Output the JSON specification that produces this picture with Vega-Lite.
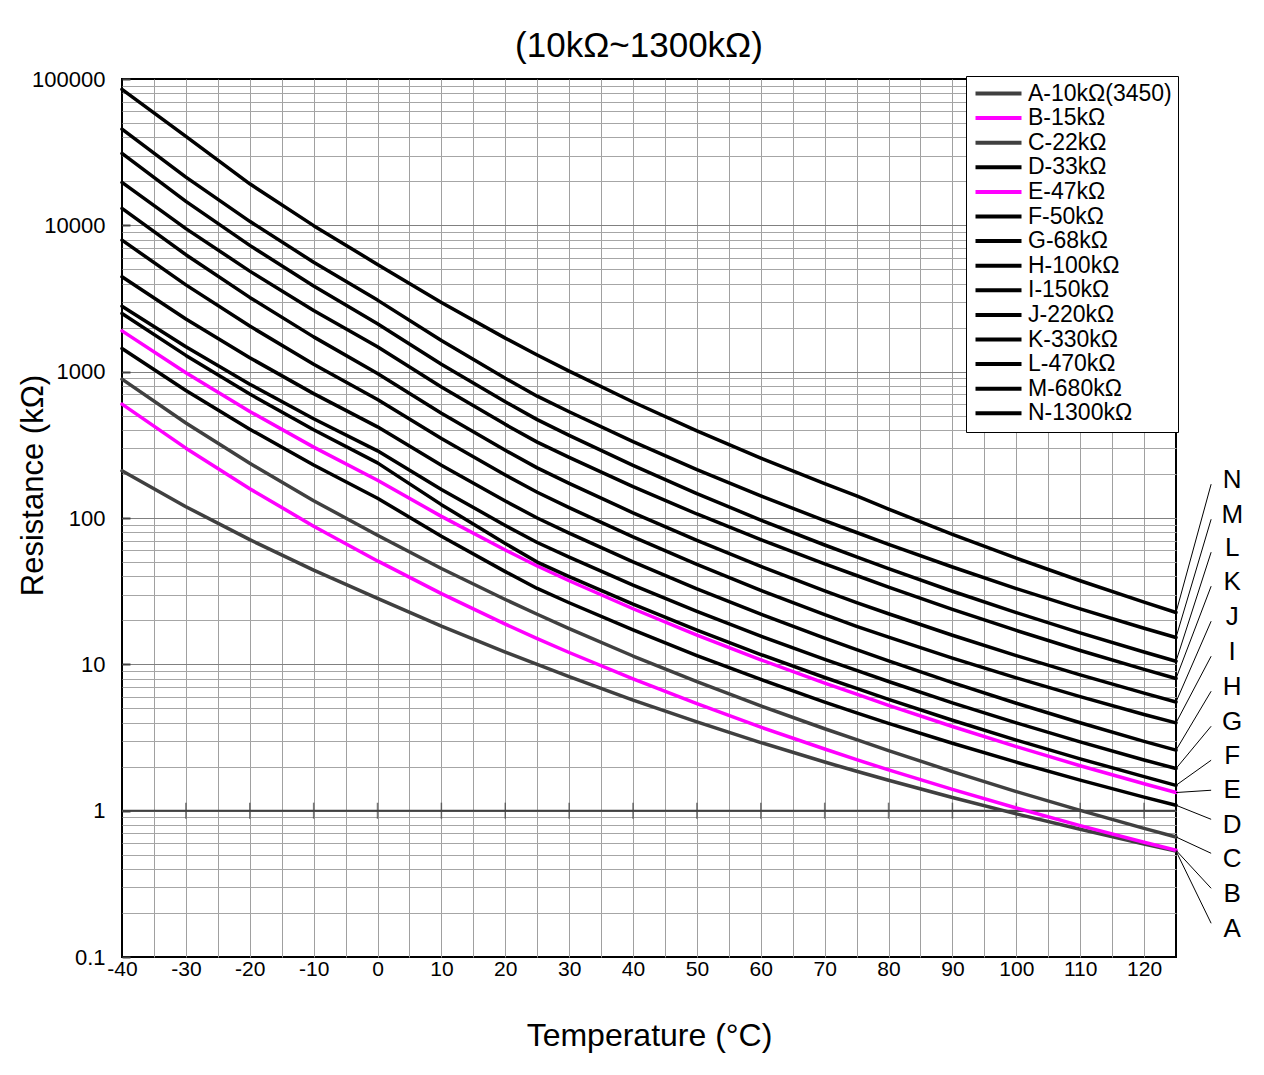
{
  "$schema": "https://vega.github.io/schema/vega-lite/v6.json",
  "width": 1054,
  "height": 878,
  "autosize": {"type": "none"},
  "padding": {"left": 122, "top": 79, "right": 88, "bottom": 118},
  "background": "#ffffff",
  "config": {
    "font": "Liberation Sans",
    "view": {"stroke": "#000000", "strokeWidth": 2}
  },
  "title": {"text": "(10kΩ~1300kΩ)", "fontSize": 35, "fontWeight": "normal", "font": "Liberation Sans", "color": "#000000", "frame": "group", "anchor": "middle", "dx": -10, "offset": 4},
  "encoding": {
    "x": {
      "field": "T", "type": "quantitative",
      "scale": {"domain": [-40, 125], "nice": false, "zero": false},
      "axis": {
        "title": "Temperature (°C)",
        "titleFontSize": 32, "titleFontWeight": "normal", "titleColor": "#000000",
        "titleY": 78, "titleBaseline": "middle",
        "values": [-40,-35,-30,-25,-20,-15,-10,-5,0,5,10,15,20,25,30,35,40,45,50,55,60,65,70,75,80,85,90,95,100,105,110,115,120,125],
        "labelExpr": "(datum.value % 10 == 0 && datum.value <= 120) ? ('' + datum.value) : ''",
        "labelFontSize": 21, "labelColor": "#000000", "labelPadding": 1,
        "labelFlush": false, "labelOverlap": false,
        "ticks": false, "domain": false,
        "grid": true, "gridColor": "#a0a0a0", "gridWidth": 1,
        "gridOpacity": {"condition": {"test": "datum.value == -40 || datum.value == 125", "value": 0}, "value": 1}
      }
    },
    "y": {
      "field": "R", "type": "quantitative",
      "scale": {"type": "log", "domain": [0.1, 100000], "nice": false},
      "axis": {
        "title": "Resistance (kΩ)",
        "titleFontSize": 31, "titleFontWeight": "normal", "titleColor": "#000000",
        "titleX": -89, "titleY": 406, "titleBaseline": "middle",
        "values": [0.1,0.2,0.3,0.4,0.5,0.6,0.7,0.8,0.9,1,2,3,4,5,6,7,8,9,10,20,30,40,50,60,70,80,90,100,200,300,400,500,600,700,800,900,1000,2000,3000,4000,5000,6000,7000,8000,9000,10000,20000,30000,40000,50000,60000,70000,80000,90000,100000],
        "labelExpr": "indexof([0.1,1,10,100,1000,10000,100000], datum.value) >= 0 ? ('' + datum.value) : ''",
        "labelFontSize": 22, "labelColor": "#000000",
        "labelFlush": false, "labelOverlap": false,
        "ticks": true, "tickSize": -8, "tickWidth": 2, "tickColor": "#404040",
        "tickOpacity": {"condition": {"test": "indexof([0.1,1,10,100,1000,10000,100000], datum.value) >= 0", "value": 1}, "value": 0},
        "labelPadding": 25,
        "domain": false,
        "grid": true, "gridWidth": 1,
        "gridColor": {"condition": {"test": "indexof([1,10,100,1000,10000], datum.value) >= 0", "value": "#808080"}, "value": "#a6a6a6"},
        "gridOpacity": {"condition": {"test": "datum.value == 0.1 || datum.value == 100000", "value": 0}, "value": 1}
      }
    }
  },
  "layer": [
    {
      "data": {"values": [{"T": -40, "R": 1}, {"T": 125, "R": 1}]},
      "mark": {"type": "line", "color": "#404040", "strokeWidth": 2}
    },
    {
      "data": {"values": [{"T": -30, "R": 1}, {"T": -20, "R": 1}, {"T": -10, "R": 1}, {"T": 0, "R": 1}, {"T": 10, "R": 1}, {"T": 20, "R": 1}, {"T": 30, "R": 1}, {"T": 40, "R": 1}, {"T": 50, "R": 1}, {"T": 60, "R": 1}, {"T": 70, "R": 1}, {"T": 80, "R": 1}, {"T": 90, "R": 1}, {"T": 100, "R": 1}, {"T": 110, "R": 1}, {"T": 120, "R": 1}]},
      "mark": {"type": "tick", "orient": "vertical", "size": 16, "thickness": 1.5, "color": "#404040"}
    },
    {
      "data": {"values": [
        {"n":"A-10kΩ(3450)","T":-40,"R":210},{"n":"A-10kΩ(3450)","T":-30,"R":119.4},{"n":"A-10kΩ(3450)","T":-20,"R":71.1},{"n":"A-10kΩ(3450)","T":-10,"R":44.0},{"n":"A-10kΩ(3450)","T":0,"R":28.2},{"n":"A-10kΩ(3450)","T":10,"R":18.22},{"n":"A-10kΩ(3450)","T":20,"R":12.13},{"n":"A-10kΩ(3450)","T":25,"R":10},{"n":"A-10kΩ(3450)","T":30,"R":8.25},{"n":"A-10kΩ(3450)","T":40,"R":5.70},{"n":"A-10kΩ(3450)","T":50,"R":4.04},{"n":"A-10kΩ(3450)","T":60,"R":2.92},{"n":"A-10kΩ(3450)","T":70,"R":2.15},{"n":"A-10kΩ(3450)","T":75,"R":1.86},{"n":"A-10kΩ(3450)","T":80,"R":1.613},{"n":"A-10kΩ(3450)","T":90,"R":1.230},{"n":"A-10kΩ(3450)","T":100,"R":0.951},{"n":"A-10kΩ(3450)","T":110,"R":0.746},{"n":"A-10kΩ(3450)","T":120,"R":0.592},{"n":"A-10kΩ(3450)","T":125,"R":0.53},
        {"n":"B-15kΩ","T":-40,"R":600},{"n":"B-15kΩ","T":-30,"R":300.1},{"n":"B-15kΩ","T":-20,"R":158.6},{"n":"B-15kΩ","T":-10,"R":87.9},{"n":"B-15kΩ","T":0,"R":50.9},{"n":"B-15kΩ","T":10,"R":30.4},{"n":"B-15kΩ","T":20,"R":18.84},{"n":"B-15kΩ","T":25,"R":15},{"n":"B-15kΩ","T":30,"R":12.05},{"n":"B-15kΩ","T":40,"R":7.95},{"n":"B-15kΩ","T":50,"R":5.38},{"n":"B-15kΩ","T":60,"R":3.72},{"n":"B-15kΩ","T":70,"R":2.64},{"n":"B-15kΩ","T":75,"R":2.23},{"n":"B-15kΩ","T":80,"R":1.901},{"n":"B-15kΩ","T":90,"R":1.397},{"n":"B-15kΩ","T":100,"R":1.043},{"n":"B-15kΩ","T":110,"R":0.791},{"n":"B-15kΩ","T":120,"R":0.608},{"n":"B-15kΩ","T":125,"R":0.536},
        {"n":"C-22kΩ","T":-40,"R":889},{"n":"C-22kΩ","T":-30,"R":446},{"n":"C-22kΩ","T":-20,"R":236.3},{"n":"C-22kΩ","T":-10,"R":131.3},{"n":"C-22kΩ","T":0,"R":76.2},{"n":"C-22kΩ","T":10,"R":45.15},{"n":"C-22kΩ","T":20,"R":27.73},{"n":"C-22kΩ","T":25,"R":22},{"n":"C-22kΩ","T":30,"R":17.54},{"n":"C-22kΩ","T":40,"R":11.40},{"n":"C-22kΩ","T":50,"R":7.61},{"n":"C-22kΩ","T":60,"R":5.20},{"n":"C-22kΩ","T":70,"R":3.63},{"n":"C-22kΩ","T":75,"R":3.06},{"n":"C-22kΩ","T":80,"R":2.576},{"n":"C-22kΩ","T":90,"R":1.849},{"n":"C-22kΩ","T":100,"R":1.351},{"n":"C-22kΩ","T":110,"R":1.004},{"n":"C-22kΩ","T":120,"R":0.757},{"n":"C-22kΩ","T":125,"R":0.661},
        {"n":"D-33kΩ","T":-40,"R":1440},{"n":"D-33kΩ","T":-30,"R":743.9},{"n":"D-33kΩ","T":-20,"R":404.2},{"n":"D-33kΩ","T":-10,"R":230.1},{"n":"D-33kΩ","T":0,"R":136.5},{"n":"D-33kΩ","T":10,"R":75.05},{"n":"D-33kΩ","T":20,"R":42.99},{"n":"D-33kΩ","T":25,"R":33},{"n":"D-33kΩ","T":30,"R":26.36},{"n":"D-33kΩ","T":40,"R":17.18},{"n":"D-33kΩ","T":50,"R":11.49},{"n":"D-33kΩ","T":60,"R":7.88},{"n":"D-33kΩ","T":70,"R":5.52},{"n":"D-33kΩ","T":75,"R":4.656},{"n":"D-33kΩ","T":80,"R":3.953},{"n":"D-33kΩ","T":90,"R":2.887},{"n":"D-33kΩ","T":100,"R":2.145},{"n":"D-33kΩ","T":110,"R":1.618},{"n":"D-33kΩ","T":120,"R":1.238},{"n":"D-33kΩ","T":125,"R":1.089},
        {"n":"E-47kΩ","T":-40,"R":1900},{"n":"E-47kΩ","T":-30,"R":982.4},{"n":"E-47kΩ","T":-20,"R":534.8},{"n":"E-47kΩ","T":-10,"R":304.9},{"n":"E-47kΩ","T":0,"R":181.1},{"n":"E-47kΩ","T":10,"R":102.6},{"n":"E-47kΩ","T":20,"R":60.43},{"n":"E-47kΩ","T":25,"R":47},{"n":"E-47kΩ","T":30,"R":37.27},{"n":"E-47kΩ","T":40,"R":23.98},{"n":"E-47kΩ","T":50,"R":15.85},{"n":"E-47kΩ","T":60,"R":10.74},{"n":"E-47kΩ","T":70,"R":7.45},{"n":"E-47kΩ","T":75,"R":6.25},{"n":"E-47kΩ","T":80,"R":5.25},{"n":"E-47kΩ","T":90,"R":3.758},{"n":"E-47kΩ","T":100,"R":2.739},{"n":"E-47kΩ","T":110,"R":2.029},{"n":"E-47kΩ","T":120,"R":1.526},{"n":"E-47kΩ","T":125,"R":1.33},
        {"n":"F-50kΩ","T":-40,"R":2500},{"n":"F-50kΩ","T":-30,"R":1292},{"n":"F-50kΩ","T":-20,"R":703.5},{"n":"F-50kΩ","T":-10,"R":401.1},{"n":"F-50kΩ","T":0,"R":238.2},{"n":"F-50kΩ","T":10,"R":123.4},{"n":"F-50kΩ","T":20,"R":66.89},{"n":"F-50kΩ","T":25,"R":50},{"n":"F-50kΩ","T":30,"R":39.80},{"n":"F-50kΩ","T":40,"R":25.76},{"n":"F-50kΩ","T":50,"R":17.13},{"n":"F-50kΩ","T":60,"R":11.67},{"n":"F-50kΩ","T":70,"R":8.13},{"n":"F-50kΩ","T":75,"R":6.84},{"n":"F-50kΩ","T":80,"R":5.76},{"n":"F-50kΩ","T":90,"R":4.146},{"n":"F-50kΩ","T":100,"R":3.037},{"n":"F-50kΩ","T":110,"R":2.261},{"n":"F-50kΩ","T":120,"R":1.708},{"n":"F-50kΩ","T":125,"R":1.49},
        {"n":"G-68kΩ","T":-40,"R":2800},{"n":"G-68kΩ","T":-30,"R":1480},{"n":"G-68kΩ","T":-20,"R":821.2},{"n":"G-68kΩ","T":-10,"R":476.6},{"n":"G-68kΩ","T":0,"R":287.7},{"n":"G-68kΩ","T":10,"R":156.7},{"n":"G-68kΩ","T":20,"R":88.96},{"n":"G-68kΩ","T":25,"R":68},{"n":"G-68kΩ","T":30,"R":53.96},{"n":"G-68kΩ","T":40,"R":34.74},{"n":"G-68kΩ","T":50,"R":22.98},{"n":"G-68kΩ","T":60,"R":15.59},{"n":"G-68kΩ","T":70,"R":10.81},{"n":"G-68kΩ","T":75,"R":9.08},{"n":"G-68kΩ","T":80,"R":7.63},{"n":"G-68kΩ","T":90,"R":5.46},{"n":"G-68kΩ","T":100,"R":3.98},{"n":"G-68kΩ","T":110,"R":2.951},{"n":"G-68kΩ","T":120,"R":2.221},{"n":"G-68kΩ","T":125,"R":1.94},
        {"n":"H-100kΩ","T":-40,"R":4450},{"n":"H-100kΩ","T":-30,"R":2292},{"n":"H-100kΩ","T":-20,"R":1245},{"n":"H-100kΩ","T":-10,"R":707.9},{"n":"H-100kΩ","T":0,"R":419.8},{"n":"H-100kΩ","T":10,"R":229.4},{"n":"H-100kΩ","T":20,"R":130.6},{"n":"H-100kΩ","T":25,"R":100},{"n":"H-100kΩ","T":30,"R":78.85},{"n":"H-100kΩ","T":40,"R":50.13},{"n":"H-100kΩ","T":50,"R":32.78},{"n":"H-100kΩ","T":60,"R":22.0},{"n":"H-100kΩ","T":70,"R":15.11},{"n":"H-100kΩ","T":75,"R":12.62},{"n":"H-100kΩ","T":80,"R":10.56},{"n":"H-100kΩ","T":90,"R":7.49},{"n":"H-100kΩ","T":100,"R":5.42},{"n":"H-100kΩ","T":110,"R":3.986},{"n":"H-100kΩ","T":120,"R":2.978},{"n":"H-100kΩ","T":125,"R":2.59},
        {"n":"I-150kΩ","T":-40,"R":7920},{"n":"I-150kΩ","T":-30,"R":3920},{"n":"I-150kΩ","T":-20,"R":2049},{"n":"I-150kΩ","T":-10,"R":1125},{"n":"I-150kΩ","T":0,"R":645.7},{"n":"I-150kΩ","T":10,"R":349.1},{"n":"I-150kΩ","T":20,"R":196.9},{"n":"I-150kΩ","T":25,"R":150},{"n":"I-150kΩ","T":30,"R":117.7},{"n":"I-150kΩ","T":40,"R":74.23},{"n":"I-150kΩ","T":50,"R":48.15},{"n":"I-150kΩ","T":60,"R":32.06},{"n":"I-150kΩ","T":70,"R":21.86},{"n":"I-150kΩ","T":75,"R":18.2},{"n":"I-150kΩ","T":80,"R":15.33},{"n":"I-150kΩ","T":90,"R":11.03},{"n":"I-150kΩ","T":100,"R":8.08},{"n":"I-150kΩ","T":110,"R":6.015},{"n":"I-150kΩ","T":120,"R":4.545},{"n":"I-150kΩ","T":125,"R":3.98},
        {"n":"J-220kΩ","T":-40,"R":13050},{"n":"J-220kΩ","T":-30,"R":6300},{"n":"J-220kΩ","T":-20,"R":3217},{"n":"J-220kΩ","T":-10,"R":1729},{"n":"J-220kΩ","T":0,"R":972.9},{"n":"J-220kΩ","T":10,"R":520.2},{"n":"J-220kΩ","T":20,"R":290.2},{"n":"J-220kΩ","T":25,"R":220},{"n":"J-220kΩ","T":30,"R":172.5},{"n":"J-220kΩ","T":40,"R":108.5},{"n":"J-220kΩ","T":50,"R":70.24},{"n":"J-220kΩ","T":60,"R":46.69},{"n":"J-220kΩ","T":70,"R":31.77},{"n":"J-220kΩ","T":75,"R":26.42},{"n":"J-220kΩ","T":80,"R":22.16},{"n":"J-220kΩ","T":90,"R":15.80},{"n":"J-220kΩ","T":100,"R":11.48},{"n":"J-220kΩ","T":110,"R":8.48},{"n":"J-220kΩ","T":120,"R":6.355},{"n":"J-220kΩ","T":125,"R":5.53},
        {"n":"K-330kΩ","T":-40,"R":19650},{"n":"K-330kΩ","T":-30,"R":9500},{"n":"K-330kΩ","T":-20,"R":4865},{"n":"K-330kΩ","T":-10,"R":2622},{"n":"K-330kΩ","T":0,"R":1479},{"n":"K-330kΩ","T":10,"R":786.4},{"n":"K-330kΩ","T":20,"R":436.4},{"n":"K-330kΩ","T":25,"R":330},{"n":"K-330kΩ","T":30,"R":259.4},{"n":"K-330kΩ","T":40,"R":163.9},{"n":"K-330kΩ","T":50,"R":106.5},{"n":"K-330kΩ","T":60,"R":71.07},{"n":"K-330kΩ","T":70,"R":48.56},{"n":"K-330kΩ","T":75,"R":40.46},{"n":"K-330kΩ","T":80,"R":33.71},{"n":"K-330kΩ","T":90,"R":23.74},{"n":"K-330kΩ","T":100,"R":17.04},{"n":"K-330kΩ","T":110,"R":12.44},{"n":"K-330kΩ","T":120,"R":9.23},{"n":"K-330kΩ","T":125,"R":8.0},
        {"n":"L-470kΩ","T":-40,"R":31000},{"n":"L-470kΩ","T":-30,"R":14590},{"n":"L-470kΩ","T":-20,"R":7295},{"n":"L-470kΩ","T":-10,"R":3844},{"n":"L-470kΩ","T":0,"R":2123},{"n":"L-470kΩ","T":10,"R":1125},{"n":"L-470kΩ","T":20,"R":622.5},{"n":"L-470kΩ","T":25,"R":470},{"n":"L-470kΩ","T":30,"R":366.7},{"n":"L-470kΩ","T":40,"R":228.7},{"n":"L-470kΩ","T":50,"R":146.8},{"n":"L-470kΩ","T":60,"R":96.8},{"n":"L-470kΩ","T":70,"R":65.39},{"n":"L-470kΩ","T":75,"R":54.2},{"n":"L-470kΩ","T":80,"R":45.04},{"n":"L-470kΩ","T":90,"R":31.59},{"n":"L-470kΩ","T":100,"R":22.57},{"n":"L-470kΩ","T":110,"R":16.42},{"n":"L-470kΩ","T":120,"R":12.14},{"n":"L-470kΩ","T":125,"R":10.5},
        {"n":"M-680kΩ","T":-40,"R":45500},{"n":"M-680kΩ","T":-30,"R":21370},{"n":"M-680kΩ","T":-20,"R":10650},{"n":"M-680kΩ","T":-10,"R":5597},{"n":"M-680kΩ","T":0,"R":3083},{"n":"M-680kΩ","T":10,"R":1631},{"n":"M-680kΩ","T":20,"R":901.1},{"n":"M-680kΩ","T":25,"R":680},{"n":"M-680kΩ","T":30,"R":531.8},{"n":"M-680kΩ","T":40,"R":332.5},{"n":"M-680kΩ","T":50,"R":214.1},{"n":"M-680kΩ","T":60,"R":141.6},{"n":"M-680kΩ","T":70,"R":95.92},{"n":"M-680kΩ","T":75,"R":79.6},{"n":"M-680kΩ","T":80,"R":66.08},{"n":"M-680kΩ","T":90,"R":46.24},{"n":"M-680kΩ","T":100,"R":32.95},{"n":"M-680kΩ","T":110,"R":23.91},{"n":"M-680kΩ","T":120,"R":17.64},{"n":"M-680kΩ","T":125,"R":15.25},
        {"n":"N-1300kΩ","T":-40,"R":84900},{"n":"N-1300kΩ","T":-30,"R":40500},{"n":"N-1300kΩ","T":-20,"R":19220},{"n":"N-1300kΩ","T":-10,"R":9952},{"n":"N-1300kΩ","T":0,"R":5408},{"n":"N-1300kΩ","T":10,"R":2967},{"n":"N-1300kΩ","T":20,"R":1695},{"n":"N-1300kΩ","T":25,"R":1300},{"n":"N-1300kΩ","T":30,"R":1008},{"n":"N-1300kΩ","T":40,"R":620.6},{"n":"N-1300kΩ","T":50,"R":393.8},{"n":"N-1300kΩ","T":60,"R":256.8},{"n":"N-1300kΩ","T":70,"R":171.7},{"n":"N-1300kΩ","T":75,"R":141.6},{"n":"N-1300kΩ","T":80,"R":115.1},{"n":"N-1300kΩ","T":90,"R":77.43},{"n":"N-1300kΩ","T":100,"R":53.18},{"n":"N-1300kΩ","T":110,"R":37.26},{"n":"N-1300kΩ","T":120,"R":26.58},{"n":"N-1300kΩ","T":125,"R":22.6}
      ]},
      "mark": {"type": "line", "strokeWidth": 3.5, "strokeJoin": "round", "strokeCap": "round"},
      "encoding": {
        "color": {
          "field": "n", "type": "nominal",
          "scale": {
            "domain": ["A-10kΩ(3450)","B-15kΩ","C-22kΩ","D-33kΩ","E-47kΩ","F-50kΩ","G-68kΩ","H-100kΩ","I-150kΩ","J-220kΩ","K-330kΩ","L-470kΩ","M-680kΩ","N-1300kΩ"],
            "range": ["#404040","#ff00ff","#404040","#000000","#ff00ff","#000000","#000000","#000000","#000000","#000000","#000000","#000000","#000000","#000000"]
          },
          "legend": {
            "orient": "none", "legendX": 844, "legendY": -3,
            "title": null, "padding": 6,
            "strokeColor": "#000000", "fillColor": "#ffffff", "cornerRadius": 0,
            "symbolType": "M-1,0H4.75", "symbolSize": 256, "symbolStrokeWidth": 4,
            "labelFontSize": 23, "labelFont": "Liberation Sans", "labelColor": "#000000",
            "labelOffset": 33, "rowPadding": 0.6, "labelLimit": 400
          }
        }
      }
    },
    {
      "data": {"values": [
        {"k":"A","T":125,"R":0.53},{"k":"A","T":130.5,"R":0.170},
        {"k":"B","T":125,"R":0.536},{"k":"B","T":130.5,"R":0.2948},
        {"k":"C","T":125,"R":0.661},{"k":"C","T":130.5,"R":0.5114},
        {"k":"D","T":125,"R":1.089},{"k":"D","T":130.5,"R":0.873},
        {"k":"E","T":125,"R":1.33},{"k":"E","T":130.5,"R":1.379},
        {"k":"F","T":125,"R":1.49},{"k":"F","T":130.5,"R":2.211},
        {"k":"G","T":125,"R":1.94},{"k":"G","T":130.5,"R":3.776},
        {"k":"H","T":125,"R":2.59},{"k":"H","T":130.5,"R":6.55},
        {"k":"I","T":125,"R":3.98},{"k":"I","T":130.5,"R":11.36},
        {"k":"J","T":125,"R":5.53},{"k":"J","T":130.5,"R":19.71},
        {"k":"K","T":125,"R":8.0},{"k":"K","T":130.5,"R":34.2},
        {"k":"L","T":125,"R":10.5},{"k":"L","T":130.5,"R":58.4},
        {"k":"M","T":125,"R":15.25},{"k":"M","T":130.5,"R":98.1},
        {"k":"N","T":125,"R":22.6},{"k":"N","T":130.5,"R":170.3}
      ]},
      "mark": {"type": "line", "color": "#000000", "strokeWidth": 1},
      "encoding": {"detail": {"field": "k", "type": "nominal"}}
    },
    {
      "data": {"values": [
        {"k":"A","T":133.8,"R":0.1546},{"k":"B","T":133.8,"R":0.268},{"k":"C","T":133.8,"R":0.465},{"k":"D","T":133.8,"R":0.795},
        {"k":"E","T":133.8,"R":1.379},{"k":"F","T":133.8,"R":2.355},{"k":"G","T":133.8,"R":4.02},{"k":"H","T":133.8,"R":6.97},
        {"k":"I","T":133.8,"R":12.10},{"k":"J","T":133.8,"R":20.99},{"k":"K","T":133.8,"R":36.4},{"k":"L","T":133.8,"R":62.2},
        {"k":"M","T":133.8,"R":104.5},{"k":"N","T":133.8,"R":181.3}
      ]},
      "mark": {"type": "text", "fontSize": 26, "font": "Liberation Sans", "align": "center", "baseline": "middle", "color": "#000000"},
      "encoding": {"text": {"field": "k", "type": "nominal"}}
    }
  ]
}
